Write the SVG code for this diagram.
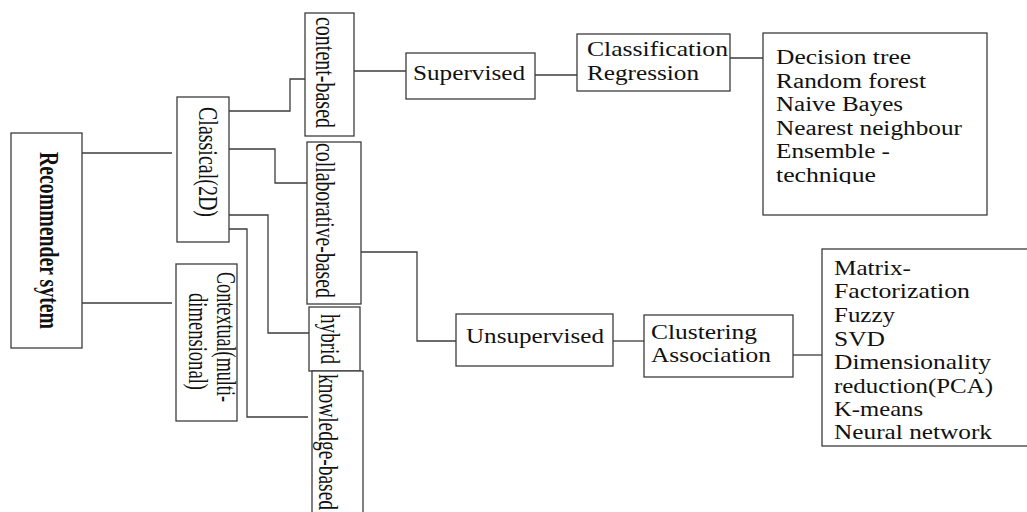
<svg xmlns="http://www.w3.org/2000/svg" width="1027" height="512" viewBox="0 0 1027 512">
  <style>
    .box { fill: #ffffff; stroke: #3c3c3c; stroke-width: 1.3; }
    .wire { fill: none; stroke: #3c3c3c; stroke-width: 1.3; }
    .t { font-family: "Liberation Serif", "Times New Roman", serif; font-size: 21px; fill: #111111; }
    .s { font-size: 20px; }
    .v { font-family: "Liberation Serif", "Times New Roman", serif; font-size: 20px; fill: #111111; }
    .b { font-weight: bold; }
  </style>
  <defs>
    <clipPath id="listClip">
      <rect x="763" y="33" width="224" height="151"/>
    </clipPath>
  </defs>
  <rect width="1027" height="512" fill="#ffffff"/>

  <!-- connectors -->
  <g id="connectors">
    <path class="wire" d="M82,153 H172"/>
    <path class="wire" d="M82,303 H172"/>
    <path class="wire" d="M229,111 H290 V79 H305"/>
    <path class="wire" d="M229,149 H275 V183 H307"/>
    <path class="wire" d="M229,215 H268 V333 H309"/>
    <path class="wire" d="M229,229 H247 V417 H308"/>
    <path class="wire" d="M354,71 H406"/>
    <path class="wire" d="M535,75 H577"/>
    <path class="wire" d="M730,58 H763"/>
    <path class="wire" d="M361,252 H417 V341 H456"/>
    <path class="wire" d="M613,341 H644"/>
    <path class="wire" d="M793,355 H822"/>
  </g>

  <!-- root -->
  <g id="recommender">
    <rect class="box" x="11" y="133" width="71" height="215"/>
    <text class="v b" transform="translate(40,152) scale(1.4,1) rotate(90)" textLength="177" lengthAdjust="spacingAndGlyphs">Recommender sytem</text>
  </g>

  <g id="classical">
    <rect class="box" x="177" y="97" width="52" height="145"/>
    <text class="v" transform="translate(199,107) scale(1.4,1) rotate(90)" textLength="110" lengthAdjust="spacingAndGlyphs">Classical(2D)</text>
  </g>

  <g id="contextual">
    <rect class="box" x="176" y="264" width="61" height="157"/>
    <text class="v" transform="translate(217,272) scale(1.4,1) rotate(90)" textLength="130" lengthAdjust="spacingAndGlyphs">Contextual(multi-</text>
    <text class="v" transform="translate(189,293) scale(1.4,1) rotate(90)" textLength="97" lengthAdjust="spacingAndGlyphs">dimensional)</text>
  </g>

  <g id="content-based">
    <rect class="box" x="305" y="13" width="49" height="123"/>
    <text class="v" transform="translate(316,17) scale(1.4,1) rotate(90)" textLength="111" lengthAdjust="spacingAndGlyphs">content-based</text>
  </g>

  <g id="collaborative-based">
    <rect class="box" x="307" y="142" width="54" height="162"/>
    <text class="v" transform="translate(316,143) scale(1.4,1) rotate(90)" textLength="155" lengthAdjust="spacingAndGlyphs">collaborative-based</text>
  </g>

  <g id="hybrid">
    <rect class="box" x="309" y="307" width="51" height="64"/>
    <text class="v" transform="translate(321,314) scale(1.4,1) rotate(90)" textLength="50" lengthAdjust="spacingAndGlyphs">hybrid</text>
  </g>

  <g id="knowledge-based">
    <rect class="box" x="312" y="371" width="51" height="150"/>
    <text class="v" transform="translate(319,374) scale(1.4,1) rotate(90)" textLength="136" lengthAdjust="spacingAndGlyphs">knowledge-based</text>
  </g>

  <g id="supervised">
    <rect class="box" x="406" y="53" width="129" height="46"/>
    <text class="t" x="413" y="80" textLength="112" lengthAdjust="spacingAndGlyphs">Supervised</text>
  </g>

  <g id="classification">
    <rect class="box" x="577" y="34" width="153" height="57"/>
    <text class="t" x="587" y="56" textLength="141" lengthAdjust="spacingAndGlyphs">Classification</text>
    <text class="t" x="587" y="80" textLength="112" lengthAdjust="spacingAndGlyphs">Regression</text>
  </g>

  <g id="supervised-methods">
    <rect class="box" x="763" y="33" width="224" height="182"/>
    <g clip-path="url(#listClip)">
      <text class="t s" x="776" y="64" textLength="135" lengthAdjust="spacingAndGlyphs">Decision tree</text>
      <text class="t s" x="776" y="88" textLength="150" lengthAdjust="spacingAndGlyphs">Random forest</text>
      <text class="t s" x="776" y="111" textLength="127" lengthAdjust="spacingAndGlyphs">Naive Bayes</text>
      <text class="t s" x="776" y="135" textLength="186" lengthAdjust="spacingAndGlyphs">Nearest neighbour</text>
      <text class="t s" x="776" y="158" textLength="114" lengthAdjust="spacingAndGlyphs">Ensemble -</text>
      <text class="t s" x="776" y="182" textLength="100" lengthAdjust="spacingAndGlyphs">technique</text>
    </g>
  </g>

  <g id="unsupervised">
    <rect class="box" x="456" y="314" width="157" height="52"/>
    <text class="t" x="466" y="343" textLength="138" lengthAdjust="spacingAndGlyphs">Unsupervised</text>
  </g>

  <g id="clustering">
    <rect class="box" x="644" y="315" width="149" height="62"/>
    <text class="t" x="651" y="339" textLength="106" lengthAdjust="spacingAndGlyphs">Clustering</text>
    <text class="t" x="651" y="362" textLength="120" lengthAdjust="spacingAndGlyphs">Association</text>
  </g>

  <g id="unsupervised-methods">
    <rect class="box" x="822" y="249" width="215" height="197"/>
    <text class="t" x="834" y="275" textLength="77" lengthAdjust="spacingAndGlyphs">Matrix-</text>
    <text class="t" x="834" y="298" textLength="136" lengthAdjust="spacingAndGlyphs">Factorization</text>
    <text class="t" x="834" y="322" textLength="61" lengthAdjust="spacingAndGlyphs">Fuzzy</text>
    <text class="t" x="834" y="346" textLength="51" lengthAdjust="spacingAndGlyphs">SVD</text>
    <text class="t" x="834" y="369" textLength="157" lengthAdjust="spacingAndGlyphs">Dimensionality</text>
    <text class="t" x="834" y="393" textLength="159" lengthAdjust="spacingAndGlyphs">reduction(PCA)</text>
    <text class="t" x="834" y="416" textLength="89" lengthAdjust="spacingAndGlyphs">K-means</text>
    <text class="t" x="834" y="439" textLength="158" lengthAdjust="spacingAndGlyphs">Neural network</text>
  </g>
</svg>
